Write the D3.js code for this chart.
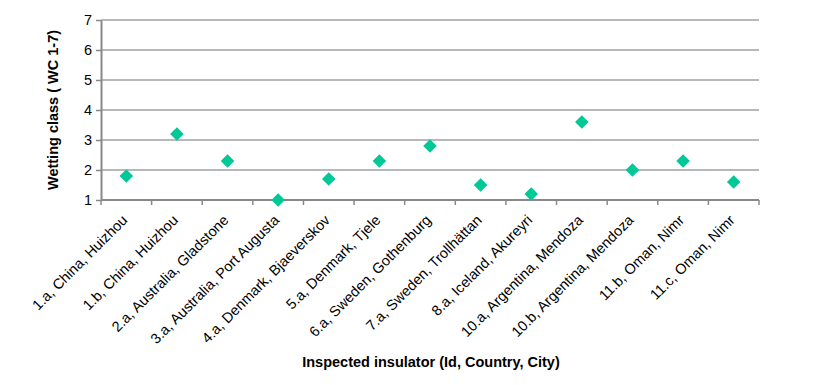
<!DOCTYPE html>
<html>
<head>
<meta charset="utf-8">
<script src="https://cdn.jsdelivr.net/npm/d3@7"></script>
<style>
  body { margin: 0; background: #fff; }
  text { font-family: "Liberation Sans", Arial, sans-serif; }
</style>
</head>
<body>
<div class="chart"></div>
<script>
// insulator ids and wetting class
const insulators = ["1.a, China, Huizhou", "1.b, China, Huizhou", "2.a, Australia, Gladstone",
    "3.a, Australia, Port Augusta", "4.a, Denmark, Bjaeverskov", "5.a, Denmark, Tjele",
    "6.a, Sweden, Gothenburg", "7.a, Sweden, Trollhättan", "8.a, Iceland, Akureyri",
    "10.a, Argentina, Mendoza", "10.b, Argentina, Mendoza", "11.b, Oman, Nimr", "11.c, Oman, Nimr"];
const wettingClass = [1.8, 3.2, 2.3, 1.0, 1.7, 2.3, 2.8, 1.5, 1.2, 3.6, 2.0, 2.3, 1.6];
const yTicks = [1, 2, 3, 4, 5, 6, 7];

const width = 813, height = 385;
const margin = { top: 20, right: 54, bottom: 185, left: 101 };

const svg = d3.select(".chart").append("svg")
    .attr("width", width)
    .attr("height", height);

const x = d3.scaleBand()
    .domain(insulators)
    .range([margin.left, width - margin.right]);

const y = d3.scaleLinear()
    .domain([1, 7])
    .range([height - margin.bottom, margin.top]);

// gridlines
svg.append("g")
    .selectAll("line")
    .data(yTicks.slice(1))
    .enter()
    .append("line")
    .attr("x1", margin.left)
    .attr("x2", width - margin.right)
    .attr("y1", d => y(d))
    .attr("y2", d => y(d))
    .style("stroke", "#a0a0a0")
    .style("stroke-width", 1.5);

// y axis
const yAxis = svg.append("g")
    .attr("transform", `translate(${margin.left},0)`)
    .call(d3.axisLeft(y).tickValues(yTicks).tickFormat(d3.format("d")).tickSize(5).tickSizeOuter(0));
yAxis.select(".domain").style("stroke", "#888").style("stroke-width", 2);
yAxis.selectAll(".tick line").style("stroke", "#888").style("stroke-width", 1.5);
yAxis.selectAll("text")
    .style("font-size", "14.5px")
    .style("font-family", "'Liberation Sans', Arial, sans-serif")
    .style("fill", "#000")
    .attr("x", -9);

// x axis: ticks between the categories
const xAxis = svg.append("g")
    .attr("transform", `translate(0,${y(1)})`);
xAxis.append("line")
    .attr("x1", margin.left)
    .attr("x2", width - margin.right)
    .style("stroke", "#888")
    .style("stroke-width", 2);
xAxis.selectAll(".xtick")
    .data(insulators.concat(["end"]))
    .enter()
    .append("line")
    .attr("x1", (d, i) => i < insulators.length ? x(d) : x.range()[1])
    .attr("x2", (d, i) => i < insulators.length ? x(d) : x.range()[1])
    .attr("y1", 0)
    .attr("y2", 5)
    .style("stroke", "#888")
    .style("stroke-width", 1.5);

xAxis.selectAll(".xlabel")
    .data(insulators)
    .enter()
    .append("text")
    .attr("transform", d => `translate(${x(d) + x.bandwidth() / 2 + 2},${21}) rotate(-45)`)
    .style("text-anchor", "end")
    .style("font-size", "14.5px")
    .style("fill", "#000")
    .text(d => d);

// markers
svg.append("g")
    .selectAll("path")
    .data(wettingClass)
    .enter()
    .append("path")
    .attr("d", d3.symbol().type(d3.symbolSquare).size(92))
    .attr("transform", (d, i) => `translate(${x(insulators[i]) + x.bandwidth() / 2},${y(d)}) rotate(45)`)
    .style("fill", "#00c896");

// axis titles
svg.append("text")
    .attr("transform", `translate(58,${(y(1) + y(7)) / 2}) rotate(-90)`)
    .style("text-anchor", "middle")
    .style("font-size", "14.5px")
    .style("font-weight", "bold")
    .text("Wetting class ( WC 1-7)");

svg.append("text")
    .attr("x", 431)
    .attr("y", 367)
    .style("text-anchor", "middle")
    .style("font-size", "14.5px")
    .style("font-weight", "bold")
    .text("Inspected insulator (Id, Country, City)");
</script>
</body>
</html>
